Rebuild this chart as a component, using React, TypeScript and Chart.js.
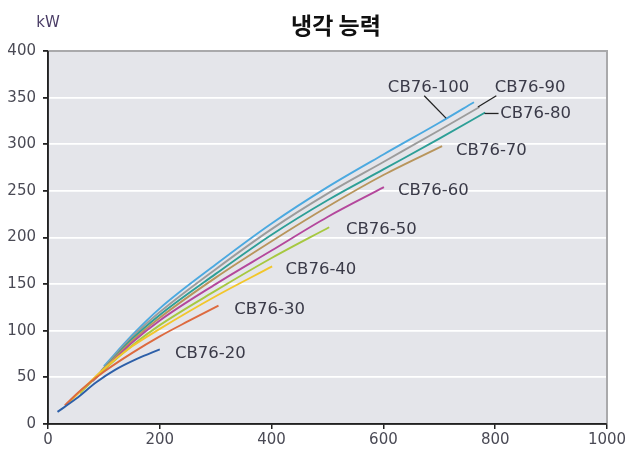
import React, { useEffect, useRef } from "react";
import { Chart, registerables } from "chart.js";
Chart.register(...registerables);

const titleText = "냉각 능력";
const unitText = "kW";

const modelNames = ["CB76-20", "CB76-30", "CB76-40", "CB76-50", "CB76-60", "CB76-70", "CB76-80", "CB76-90", "CB76-100"];
const modelColors = ["#2d5fa8", "#dd6a3f", "#f2c62a", "#a6c840", "#b4479c", "#b8955c", "#2d9f97", "#9c9c9c", "#4ba9e0"];

const cb20X = [17, 50, 87, 120, 160, 200];
const cb20Y = [13, 27, 45, 58, 70, 80];
const cb30X = [30, 60, 100, 150, 200, 250, 305];
const cb30Y = [20, 37, 56, 76, 94, 110, 127];
const cb40X = [39, 100, 150, 200, 300, 401];
const cb40Y = [24, 59, 83, 102, 137, 169];
const cb50X = [57, 100, 150, 200, 300, 400, 503];
const cb50Y = [33, 58, 84, 106, 143, 178, 211];
const cb60X = [80, 150, 200, 300, 400, 500, 601];
const cb60Y = [46, 87, 111, 150, 186, 222, 254];
const cb70X = [85, 150, 200, 300, 400, 500, 600, 705];
const cb70Y = [50, 89, 114, 157, 196, 233, 267, 298];
const cb80X = [90, 150, 200, 300, 400, 500, 600, 700, 782];
const cb80Y = [53, 91, 117, 161, 203, 240, 273, 306, 334];
const cb90X = [95, 150, 200, 300, 400, 500, 600, 700, 772];
const cb90Y = [57, 93, 120, 166, 209, 247, 281, 315, 340];
const cb100X = [100, 150, 200, 300, 400, 500, 600, 700, 762];
const cb100Y = [62, 95, 124, 171, 215, 254, 289, 323, 345];

const seriesX = [cb20X, cb30X, cb40X, cb50X, cb60X, cb70X, cb80X, cb90X, cb100X];
const seriesY = [cb20Y, cb30Y, cb40Y, cb50Y, cb60Y, cb70Y, cb80Y, cb90Y, cb100Y];

// label anchor (left edge x, middle y) in data units
const labelX = [227, 333, 425, 533, 626, 730, 809, 799, 608];
const labelY = [75, 123, 165, 208, 250, 293, 333, 361, 361];

// leader lines in data units
const leaderX1 = [673, 802, 806];
const leaderY1 = [352, 352, 333];
const leaderX2 = [712, 769, 781];
const leaderY2 = [328, 340, 333];

const xTicks = [0, 200, 400, 600, 800, 1000];
const yTicks = [0, 50, 100, 150, 200, 250, 300, 350, 400];

const decorPlugin = {
  id: "decor",
  beforeDraw(chart: any) {
    const { ctx, chartArea } = chart;
    ctx.save();
    ctx.fillStyle = "#e4e5ea";
    ctx.fillRect(chartArea.left, chartArea.top, chartArea.right - chartArea.left, chartArea.bottom - chartArea.top);
    ctx.restore();
  },
  afterDraw(chart: any) {
    const { ctx, chartArea, scales } = chart;
    const xs = scales.x;
    const ys = scales.y;
    ctx.save();
    ctx.strokeStyle = "#a9a9ab";
    ctx.lineWidth = 2;
    ctx.beginPath();
    ctx.moveTo(chartArea.left, chartArea.top);
    ctx.lineTo(chartArea.right, chartArea.top);
    ctx.lineTo(chartArea.right, chartArea.bottom);
    ctx.stroke();
    ctx.strokeStyle = "#222";
    ctx.lineWidth = 1.6;
    ctx.beginPath();
    ctx.moveTo(chartArea.left, chartArea.top);
    ctx.lineTo(chartArea.left, chartArea.bottom);
    ctx.lineTo(chartArea.right, chartArea.bottom);
    ctx.stroke();

    ctx.strokeStyle = "#222";
    ctx.lineWidth = 1.3;
    for (let i = 0; i < leaderX1.length; i++) {
      ctx.beginPath();
      ctx.moveTo(xs.getPixelForValue(leaderX1[i]), ys.getPixelForValue(leaderY1[i]));
      ctx.lineTo(xs.getPixelForValue(leaderX2[i]), ys.getPixelForValue(leaderY2[i]));
      ctx.stroke();
    }

    ctx.fillStyle = "#3a3a48";
    ctx.font = "16.5px 'DejaVu Sans', sans-serif";
    ctx.textAlign = "left";
    ctx.textBaseline = "middle";
    for (let i = 0; i < modelNames.length; i++) {
      ctx.fillText(modelNames[i], xs.getPixelForValue(labelX[i]), ys.getPixelForValue(labelY[i]));
    }

    ctx.fillStyle = "#111";
    ctx.font = "bold 23px 'Noto Sans CJK KR', sans-serif";
    ctx.textAlign = "center";
    ctx.fillText(titleText, 336, 25);

    ctx.fillStyle = "#4a3d66";
    ctx.font = "15px 'DejaVu Sans', sans-serif";
    ctx.fillText(unitText, 48, 23);
    ctx.restore();
  },
};

export default function App() {
  const ref = useRef<HTMLCanvasElement | null>(null);
  useEffect(() => {
    if (!ref.current) return;
    const datasets = modelNames.map((name, i) => ({
      label: name,
      data: seriesX[i].map((x, j) => ({ x, y: seriesY[i][j] })),
      borderColor: modelColors[i],
      backgroundColor: modelColors[i],
      borderWidth: 1.9,
      pointRadius: 0,
      fill: false,
      cubicInterpolationMode: "monotone" as const,
    }));
    const chart = new Chart(ref.current, {
      type: "line",
      data: { datasets },
      options: {
        responsive: false,
        animation: false,
        layout: { padding: { top: 51, right: 23, left: 0, bottom: 0 } },
        plugins: { legend: { display: false }, title: { display: false }, tooltip: { enabled: false } },
        scales: {
          x: {
            type: "linear",
            min: 0,
            max: 1000,
            afterBuildTicks: (s: any) => { s.ticks = xTicks.map((v) => ({ value: v })); },
            afterFit: (s: any) => { s.height = 28; },
            grid: { drawOnChartArea: false, tickColor: "#222", tickLength: 5, lineWidth: 1.5 },
            border: { display: true, color: "#222", width: 1.5 },
            ticks: {
              color: "#4a4a55",
              font: { family: "'DejaVu Sans', sans-serif", size: 15 },
              padding: 2,
              maxRotation: 0,
              callback: (v: any) => String(v),
            },
          },
          y: {
            type: "linear",
            min: 0,
            max: 400,
            afterBuildTicks: (s: any) => { s.ticks = yTicks.map((v) => ({ value: v })); },
            afterFit: (s: any) => { s.width = 48; },
            grid: {
              color: (c: any) => (c.tick && (c.tick.value === 0 || c.tick.value === 400) ? "rgba(0,0,0,0)" : "#ffffff"),
              tickColor: "#222",
              tickLength: 5,
              lineWidth: 1.8,
            },
            border: { display: true, color: "#222", width: 1.5 },
            ticks: {
              color: "#4a4a55",
              font: { family: "'DejaVu Sans', sans-serif", size: 15 },
              padding: 7,
              callback: (v: any) => String(v),
            },
          },
        },
      },
      plugins: [decorPlugin],
    });
    return () => chart.destroy();
  }, []);
  return (
    <div style={{ position: "absolute", left: 0, top: 0, width: 630, height: 452, background: "#fff" }}>
      <canvas ref={ref} width={630} height={452} style={{ display: "block" }} />
    </div>
  );
}
